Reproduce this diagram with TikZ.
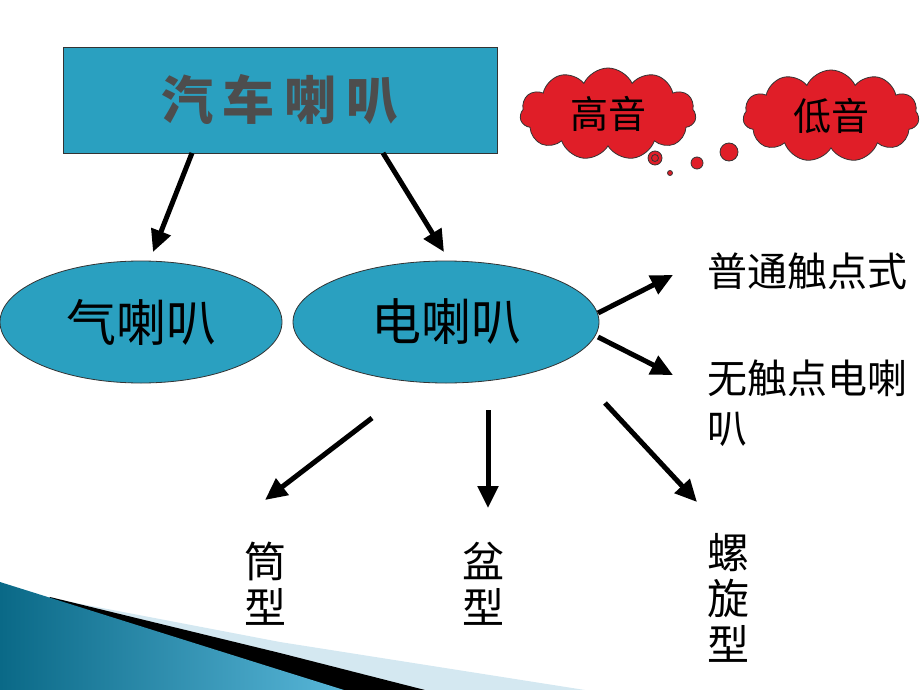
\documentclass[tikz,border=0pt]{standalone}
\usepackage{fontspec}
\setmainfont{Noto Sans CJK SC}
\usetikzlibrary{shapes.geometric,shapes.symbols,arrows.meta}
\definecolor{hornblue}{RGB}{42,160,192}
\definecolor{cloudred}{RGB}{224,30,40}
\definecolor{brushgray}{RGB}{77,77,77}
\definecolor{swteal}{RGB}{10,105,135}
\definecolor{swlight}{RGB}{88,182,216}
\definecolor{swpale}{RGB}{212,232,241}
\tikzset{
  arr/.style={line width=2.5pt, -{Triangle[length=11pt,width=10pt]}},
  oval/.style={ellipse, draw=black!80, fill=hornblue, inner sep=0pt,
    minimum width=141pt, minimum height=61pt, font=\fontsize{25}{30}\selectfont},
  puff/.style={cloud, cloud puffs=11, cloud puff arc=130, aspect=1.9, draw=black!80, fill=cloudred,
    minimum width=88pt, minimum height=46pt, inner sep=0pt, font=\fontsize{19}{22}\selectfont},
  bubble/.style={circle, draw=black!80, fill=cloudred, inner sep=0pt},
  kindtext/.style={align=center, font=\fontsize{21}{23}\selectfont},
}
\begin{document}
\begin{tikzpicture}[x=0.5pt,y=-0.5pt]
        \useasboundingbox (0,0) rectangle (920,690);
        % swoosh at the bottom left
        \fill[swpale] (50,598) -- (280,642) -- (585,690) -- (0,690) -- cycle;
        \fill[black] (50,597) -- (280,653) -- (425,690) -- (0,690) -- cycle;
        \shade[left color=swteal, right color=swlight] (0,582) -- (280,670) -- (344,690) -- (0,690) -- cycle;
        % nodes
        \draw (280,100) node[draw=black!80, fill=hornblue, minimum width=217pt, minimum height=53pt,
            text=brushgray, font=\fontsize{26}{30}\selectfont\bfseries](title){汽\hspace{5pt}车\hspace{5pt}喇\hspace{5pt}叭};
        \draw (141,322) node[oval](qi){气喇叭};
        \draw (446,322) node[oval, minimum width=153pt](dian){电喇叭};
        \draw (608,114) node[puff](gao){高音};
        \draw (831,116) node[puff](di){低音};
        \draw (655,158) node[bubble, minimum size=7pt](b1){};
        \draw (655,158) node[circle, draw=black!80, minimum size=3.5pt, inner sep=0pt](b0){};
        \draw (670,173) node[bubble, minimum size=2.5pt](b2){};
        \draw (697,163) node[bubble, minimum size=6pt](b3){};
        \draw (729,152) node[bubble, minimum size=9pt](b4){};
        \draw (700,271) node[anchor=west, font=\fontsize{20}{25}\selectfont](pt){普通触点式};
        \draw (700,403) node[anchor=west, align=left, font=\fontsize{20}{25}\selectfont](wu){无触点电喇\\叭};
        \draw (265,584) node[kindtext](tong){筒\\型};
        \draw (483,584) node[kindtext](pen){盆\\型};
        \draw (728,598) node[kindtext](luo){螺\\旋\\型};
        % arrow ends
        \coordinate (t1) at (192,153);
        \coordinate (t2) at (383,153);
        \coordinate (qtop) at (153,252);
        \coordinate (dtop) at (444,252);
        \coordinate (d2) at (598,313);
        \coordinate (d3) at (598,337);
        \coordinate (ptend) at (673,275);
        \coordinate (wuend) at (673,375);
        \coordinate (d4) at (372,418);
        \coordinate (d5) at (488,410);
        \coordinate (d6) at (605,403);
        \coordinate (tongend) at (265,500);
        \coordinate (penend) at (488,508);
        \coordinate (luoend) at (697,502);
        \draw[arr] (t1) -- (qtop);
        \draw[arr] (t2) -- (dtop);
        \draw[arr] (d2) -- (ptend);
        \draw[arr] (d3) -- (wuend);
        \draw[arr] (d4) -- (tongend);
        \draw[arr] (d5) -- (penend);
        \draw[arr] (d6) -- (luoend);
    \end{tikzpicture}
\end{document}
